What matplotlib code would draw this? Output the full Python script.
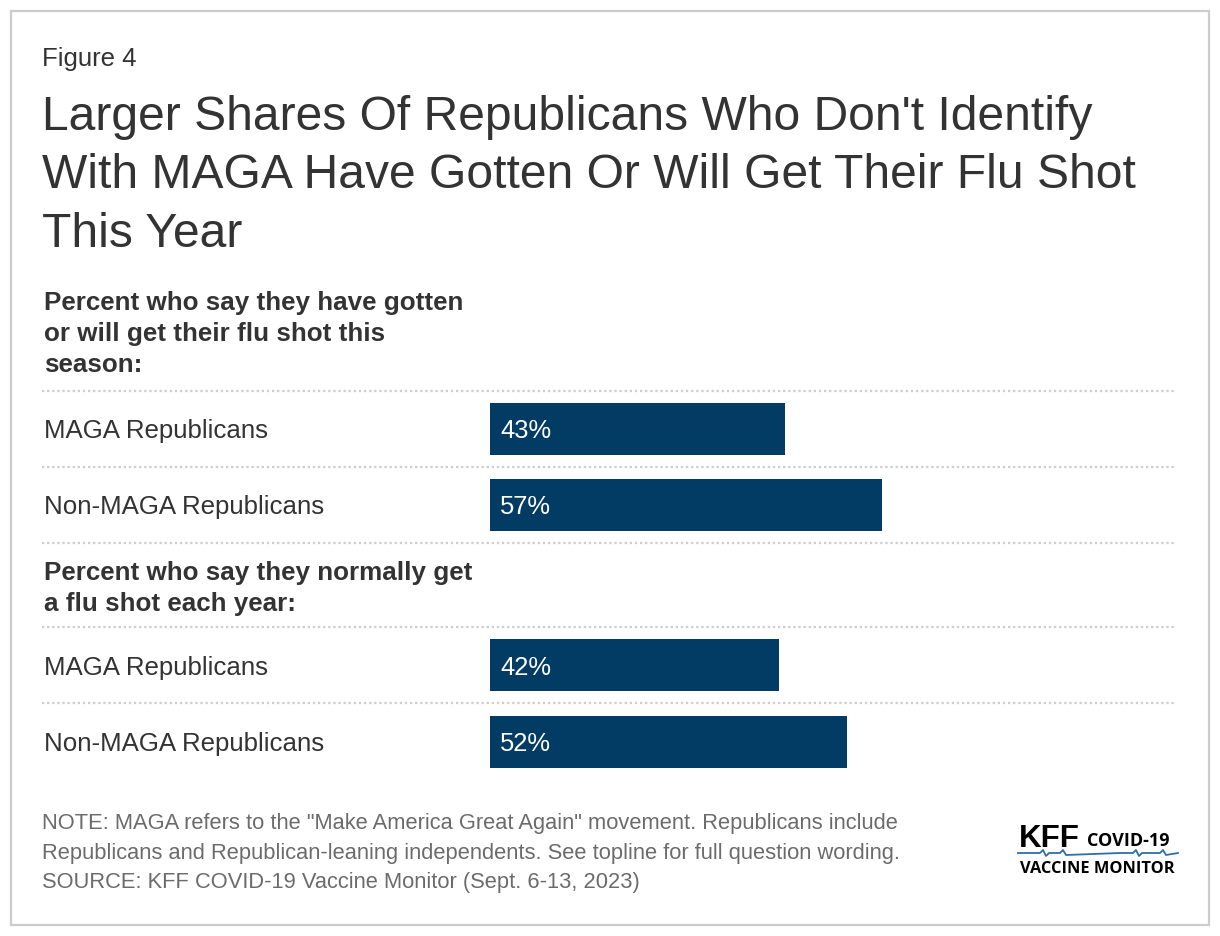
#!/usr/bin/env python3
"""Horizontal bar chart: flu shot intentions among MAGA vs non-MAGA Republicans."""

import matplotlib
matplotlib.use("Agg")
import matplotlib.pyplot as plt
from matplotlib.patches import Rectangle

W, H = 1220, 936
FONT = "Liberation Sans"

SECTIONS = [
    "Percent who say they have gotten\nor will get their flu shot this\nseason:",
    "Percent who say they normally get\na flu shot each year:",
]
GROUPS = ["MAGA Republicans", "Non-MAGA Republicans"]
GOTTEN_THIS_SEASON = [43, 57]
NORMALLY_GET = [42, 52]

TITLE_LINES = [
    "Larger Shares Of Republicans Who Don't Identify",
    "With MAGA Have Gotten Or Will Get Their Flu Shot",
    "This Year",
]
NOTE_LINES = [
    "NOTE: MAGA refers to the \"Make America Great Again\" movement. Republicans include",
    "Republicans and Republican-leaning independents. See topline for full question wording.",
    "SOURCE: KFF COVID-19 Vaccine Monitor (Sept. 6-13, 2023)",
]

BAR_COLOR = "#023c64"
TEXT = "#333333"
GRID = "#cccccc"


def main():
    fig = plt.figure(figsize=(W / 100, H / 100), dpi=100)
    fig.patch.set_facecolor("white")

    # canvas axes in pixel coordinates for text and decoration
    cv = fig.add_axes([0, 0, 1, 1])
    cv.set_xlim(0, W)
    cv.set_ylim(H, 0)
    cv.axis("off")

    # bar axes: x in percent (0 at px 490, ~6.87 px per point), y in pixels
    x0, px_per_pct = 490, 6.87
    bx = fig.add_axes([x0 / W, 0, 100 * px_per_pct / W, 1])
    bx.set_xlim(0, 100)
    bx.set_ylim(H, 0)
    bx.axis("off")
    bx.patch.set_alpha(0)

    cv.add_patch(Rectangle((11, 11), 1198, 914, fill=False, edgecolor="#cccccc", lw=1.6))

    cv.text(42, 66, "Figure 4", fontsize=18.5, color=TEXT, family=FONT, va="baseline")
    for i, line in enumerate(TITLE_LINES):
        cv.text(42, 130 + i * 58.5, line, fontsize=34.6, color=TEXT, family=FONT, va="baseline")

    # layout of rows (pixels)
    row_h = 76.3
    header_tops = [390.5, 543.1]
    header_h = 84
    series = [GOTTEN_THIS_SEASON, NORMALLY_GET]
    header_first_base = [310, 580]
    dots = dict(color=GRID, lw=1.6, ls=(0, (1, 1.3)))

    for s, (label, vals) in enumerate(zip(SECTIONS, series)):
        for j, ln in enumerate(label.split("\n")):
            cv.text(44, header_first_base[s] + j * 31, ln, fontsize=18.75, weight="bold",
                    color=TEXT, family=FONT, va="baseline")
        top = header_tops[s] if s == 0 else header_tops[s] + header_h
        # dotted separators
        if s == 0:
            for k in range(len(GROUPS) + 1):
                cv.plot([42, 1176], [top + k * row_h] * 2, **dots)
        else:
            cv.plot([42, 1176], [top] * 2, **dots)
            cv.plot([42, 1176], [top + row_h] * 2, **dots)
        centers = [top + row_h * (k + 0.5) for k in range(len(GROUPS))]
        bx.barh(centers, vals, height=52, color=BAR_COLOR, left=0)
        for c, g, v in zip(centers, GROUPS, vals):
            cv.text(44, c, g, fontsize=18.6, color=TEXT, family=FONT, va="center_baseline")
            bx.text(1.45, c, f"{v}%", fontsize=18.4, color="white", family=FONT,
                    va="center_baseline")

    for i, line in enumerate(NOTE_LINES):
        cv.text(42, 829 + i * 29.5, line, fontsize=15.75, color="#6b6b6b", family=FONT,
                va="baseline")

    # logo
    cv.text(1019, 847, "KFF", fontsize=22.5, weight="bold", color="black",
            family="Liberation Sans", va="baseline")
    cv.text(1087, 846, "COVID-19", fontsize=13, weight="bold", color="black",
            family="Open Sans", va="baseline")
    wx = [1018, 1040, 1043, 1046, 1049, 1060, 1063, 1066, 1120, 1133, 1136, 1139, 1142,
          1160, 1163, 1166, 1178]
    wy = [853, 853, 850, 856, 853, 853, 850, 855, 853, 853, 850, 856, 853, 853, 850, 855, 853]
    cv.plot(wx, wy, color="#2f6ea8", lw=1.3)
    cv.text(1020, 873, "VACCINE MONITOR", fontsize=11.8, weight="bold", color="black",
            family="Open Sans", va="baseline")

    fig.savefig("out.png", dpi=100, facecolor="white")


if __name__ == "__main__":
    main()
